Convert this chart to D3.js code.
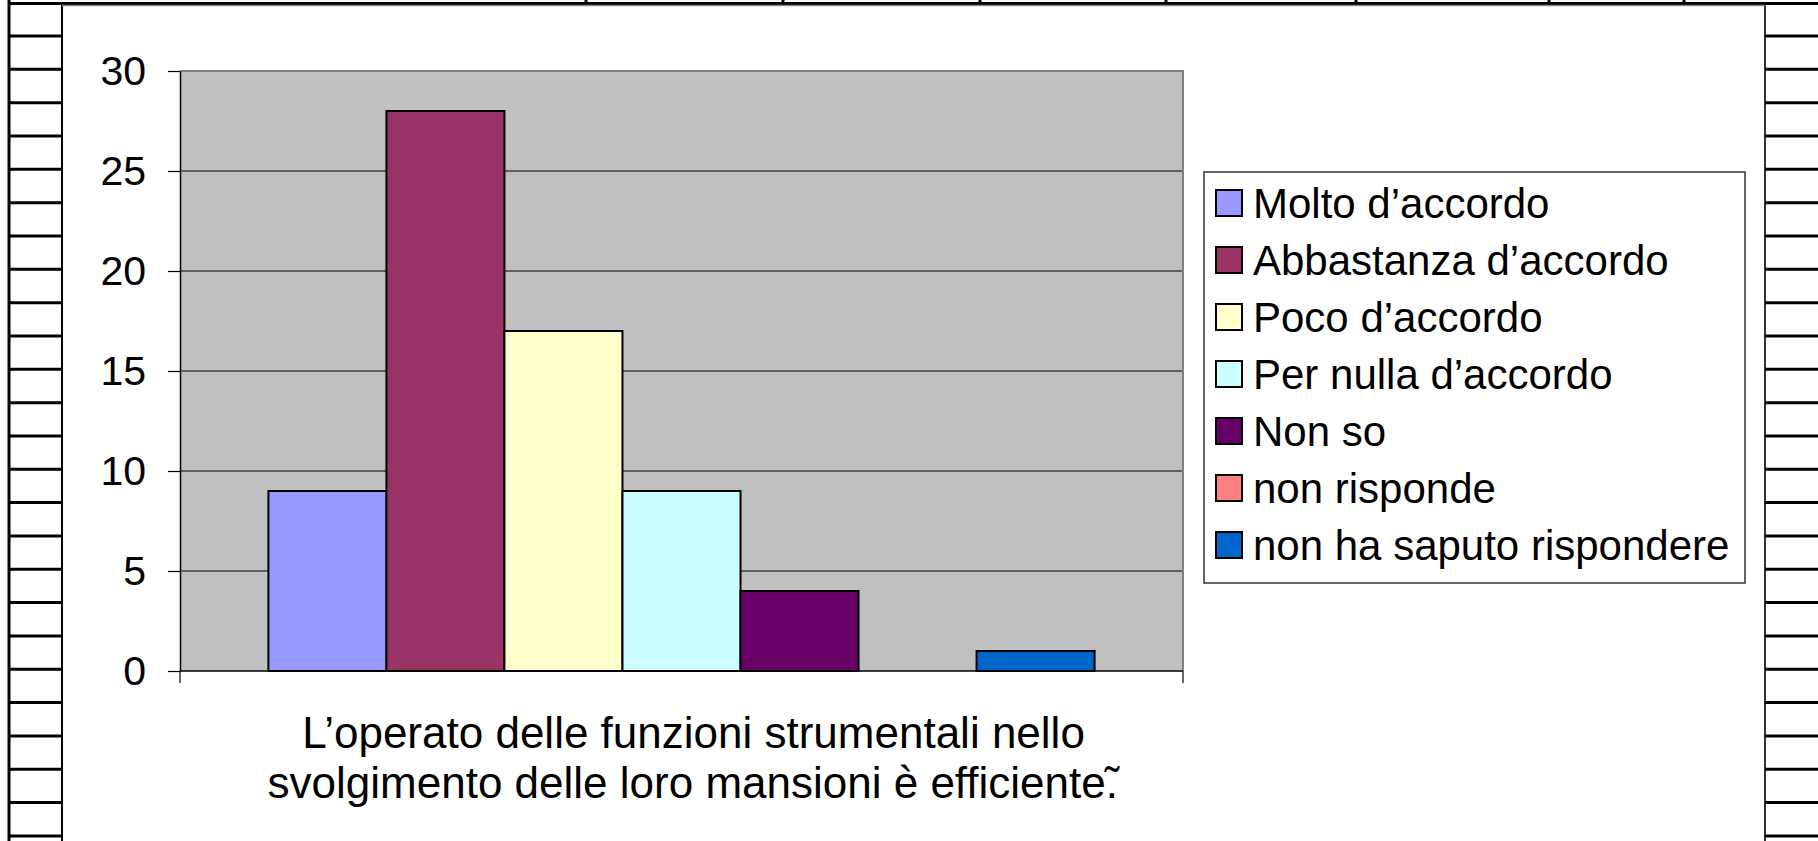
<!DOCTYPE html>
<html>
<head>
<meta charset="utf-8">
<script src="https://cdn.jsdelivr.net/npm/d3@7"></script>
<style>
  html, body { margin: 0; padding: 0; background: #fff; }
  svg { display: block; font-family: "Liberation Sans", Arial, sans-serif; }
</style>
</head>
<body>
<div id="grafico"></div>
<script>
// Dati del grafico
const categoria = ["L’operato delle funzioni strumentali nello", "svolgimento delle loro mansioni è efficiente.˜"];
const serie = ["Molto d’accordo", "Abbastanza d’accordo", "Poco d’accordo", "Per nulla d’accordo", "Non so", "non risponde", "non ha saputo rispondere"];
const valori = [9, 28, 17, 9, 4, 0, 1];
const colori = ["#9999FF", "#993366", "#FFFFCC", "#CCFFFF", "#660066", "#FF8080", "#0066CC"];
const tickY = [0, 5, 10, 15, 20, 25, 30];

// Dimensioni
const larghezza = 1818;
const altezza = 841;
const area = {sinistra: 180, destra: 1183, alto: 71, basso: 671};

const svg = d3.select('#grafico')
    .append('svg')
    .attr('width', larghezza)
    .attr('height', altezza);

// Cornice della tabella (decorazione della pagina)
const cornice = svg.append('g').attr('stroke', '#000');
cornice.append('line').attr('x1', 9).attr('x2', 9).attr('y1', 0).attr('y2', altezza).attr('stroke-width', 3);
cornice.append('line').attr('x1', 9).attr('x2', larghezza).attr('y1', 3.5).attr('y2', 3.5).attr('stroke-width', 3);
cornice.append('line').attr('x1', 62).attr('x2', 62).attr('y1', 5).attr('y2', altezza).attr('stroke-width', 2);
cornice.append('line').attr('x1', 1765).attr('x2', 1765).attr('y1', 5).attr('y2', altezza).attr('stroke-width', 2).attr('stroke', '#333');
cornice.append('line').attr('x1', 62).attr('x2', 1765).attr('y1', 5.5).attr('y2', 5.5).attr('stroke-width', 1.5).attr('stroke', '#888');
d3.range(25).forEach(k => {
    const yy = 36 + k * 33.33;
    cornice.append('line').attr('x1', 9).attr('x2', 62).attr('y1', yy).attr('y2', yy).attr('stroke-width', 3);
    cornice.append('line').attr('x1', 1765).attr('x2', larghezza).attr('y1', yy).attr('y2', yy).attr('stroke-width', 3);
});
[586, 783, 980, 1166, 1356, 1549, 1684].forEach(xx => {
    cornice.append('line').attr('x1', xx).attr('x2', xx).attr('y1', 0).attr('y2', 4).attr('stroke-width', 3);
});

// Scale
const y = d3.scaleLinear()
    .domain([0, 30])
    .range([area.basso, area.alto]);

const x0 = d3.scaleBand()
    .domain([categoria.join(' ')])
    .range([area.sinistra, area.destra])
    .paddingInner(0)
    .paddingOuter(0.107);

const x1 = d3.scaleBand()
    .domain(serie)
    .range([0, x0.bandwidth()])
    .padding(0);

// Sfondo dell'area del tracciato
svg.append('rect')
    .attr('x', area.sinistra)
    .attr('y', area.alto)
    .attr('width', area.destra - area.sinistra)
    .attr('height', area.basso - area.alto)
    .attr('fill', '#C0C0C0');

// Griglia
svg.append('g')
    .selectAll('line')
    .data(tickY.filter(t => t > 0 && t < 30))
    .enter()
    .append('line')
    .attr('x1', area.sinistra)
    .attr('x2', area.destra)
    .attr('y1', d => y(d))
    .attr('y2', d => y(d))
    .attr('stroke', '#000')
    .attr('stroke-width', 1);

// Bordo superiore e destro
svg.append('path')
    .attr('d', `M${area.sinistra},${area.alto}H${area.destra}V${area.basso}`)
    .attr('fill', 'none')
    .attr('stroke', '#808080')
    .attr('stroke-width', 2);

// Barre
svg.append('g')
    .selectAll('rect')
    .data(valori)
    .enter()
    .append('rect')
    .attr('x', (d, i) => x0(categoria.join(' ')) + x1(serie[i]))
    .attr('y', d => y(d))
    .attr('width', x1.bandwidth())
    .attr('height', d => y(0) - y(d))
    .attr('fill', (d, i) => colori[i])
    .attr('stroke', '#000')
    .attr('stroke-width', d => d > 0 ? 2 : 0);

// Asse Y
const asseY = svg.append('g')
    .attr('transform', `translate(${area.sinistra},0)`)
    .call(d3.axisLeft(y).tickValues(tickY).tickSize(12).tickPadding(22).tickSizeOuter(0));
asseY.select('.domain').attr('stroke', '#000').attr('stroke-width', 1.5);
asseY.selectAll('.tick line').attr('stroke', '#000').attr('stroke-width', 1.2);
asseY.selectAll('text')
    .attr('font-size', 41)
    .attr('font-family', '"Liberation Sans", Arial, sans-serif')
    .attr('fill', '#000');

// Asse X
svg.append('line')
    .attr('x1', area.sinistra)
    .attr('x2', area.destra)
    .attr('y1', y(0))
    .attr('y2', y(0))
    .attr('stroke', '#000')
    .attr('stroke-width', 1.5);
x0.range().forEach(xx => {
    svg.append('line')
        .attr('x1', xx).attr('x2', xx)
        .attr('y1', y(0)).attr('y2', y(0) + 12)
        .attr('stroke', '#000')
        .attr('stroke-width', 1.2);
});

// Etichetta della categoria (la tilde finale sta sopra il punto)
const centroX = x0(categoria.join(' ')) + x0.bandwidth() / 2 + 12;
categoria.forEach((riga, i) => {
    const t = svg.append('text')
        .attr('x', centroX)
        .attr('y', 748 + i * 50)
        .attr('text-anchor', 'middle')
        .attr('font-size', 44)
        .attr('fill', '#000');
    if (riga.endsWith('˜')) {
        t.append('tspan').text(riga.slice(0, -1));
        t.append('tspan').attr('dx', '-0.3em').text('˜');
    } else {
        t.text(riga);
    }
});

// Legenda
const legenda = svg.append('g').attr('transform', 'translate(1204,172)');
legenda.append('rect')
    .attr('width', 541)
    .attr('height', 411)
    .attr('fill', '#fff')
    .attr('stroke', '#333')
    .attr('stroke-width', 1.5);

const voci = legenda.selectAll('g')
    .data(serie)
    .enter()
    .append('g')
    .attr('transform', (d, i) => `translate(0, ${31 + i * 57})`);
voci.append('rect')
    .attr('x', 12)
    .attr('y', -13)
    .attr('width', 26)
    .attr('height', 26)
    .attr('fill', (d, i) => colori[i])
    .attr('stroke', '#000')
    .attr('stroke-width', 2);
voci.append('text')
    .attr('x', 49)
    .attr('dy', '0.36em')
    .attr('font-size', 42)
    .attr('fill', '#000')
    .text(d => d);
</script>
</body>
</html>
